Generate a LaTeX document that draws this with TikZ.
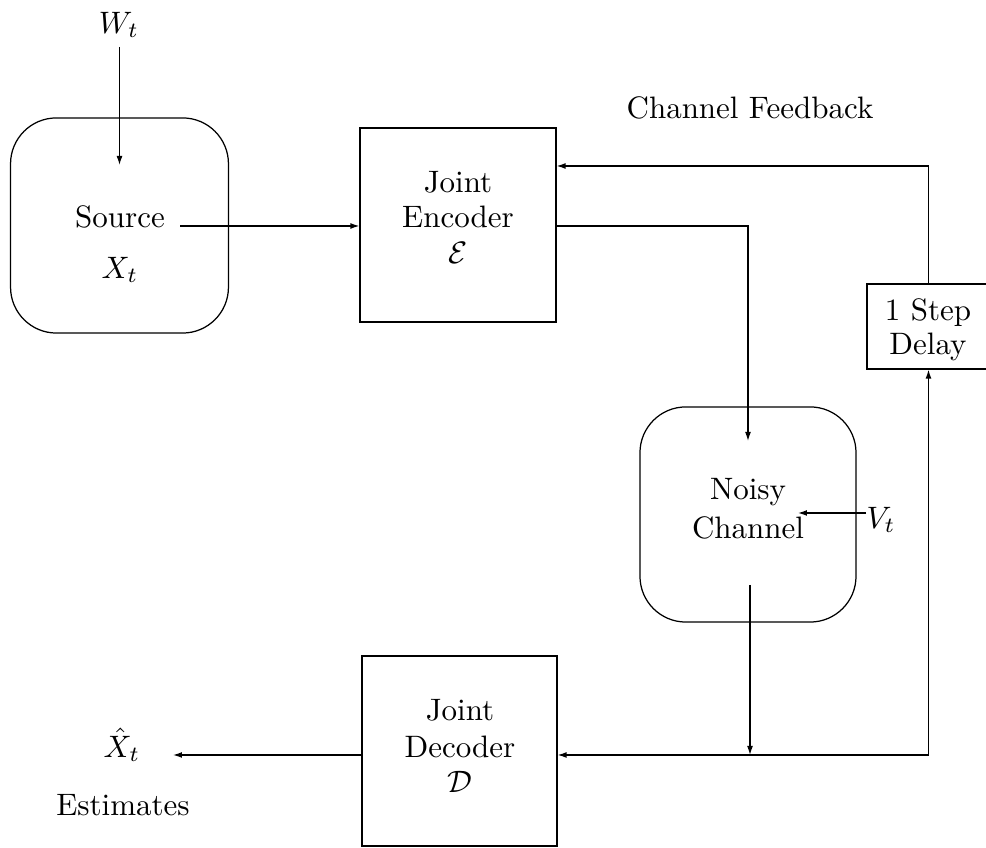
\documentclass[tikz,border=0pt]{standalone}
\usetikzlibrary{arrows.meta}
\begin{document}
\begin{tikzpicture}[x=0.3226pt,y=-0.3226pt,
  txt/.style={font=\fontsize{10}{12}\selectfont, inner sep=0pt},
  rbox/.style={draw, line width=0.4pt, rounded corners=14.8pt, inner sep=0pt},
  sbox/.style={draw, line width=0.4pt, rectangle, inner sep=0pt},
  arr/.style={line width=0.4pt, -{Latex[length=2.9pt,width=1.9pt]}}]
\useasboundingbox (0,0) rectangle (986,848);

% boxes
\node[rbox, minimum width=70.3pt, minimum height=69.4pt] (src) at (119.5,225.5) {};
\node[sbox, minimum width=63.2pt, minimum height=62.6pt] (enc) at (458,225) {};
\node[rbox, minimum width=69.7pt, minimum height=69.4pt] (chn) at (748,514.5) {};
\node[sbox, minimum width=39.7pt, minimum height=27.4pt] (dly) at (928.5,326.5) {};
\node[sbox, minimum width=62.9pt, minimum height=61.3pt] (dec) at (459.5,751) {};

% texts
\node[txt] (wt) at (119,25) {$W_t$};
\node[txt] (srctxt) at (120,217) {Source};
\node[txt] (srcx) at (120,270) {$X_t$};
\node[txt] (encj) at (458,182) {Joint};
\node[txt] (ence) at (458,217) {Encoder};
\node[txt] (encs) at (458,253) {$\mathcal{E}$};
\node[txt] (fbtxt) at (750,108) {Channel Feedback};
\node[txt] (dly1) at (928,313) {1 Step};
\node[txt] (dly2) at (928,347) {Delay};
\node[txt] (noisy) at (748,492) {Noisy};
\node[txt] (chtxt) at (748,528) {Channel};
\node[txt, anchor=west] (vt) at (866,520) {$V_t$};
\node[txt] (decj) at (460,710) {Joint};
\node[txt] (decd) at (460,747) {Decoder};
\node[txt] (decs) at (460,782) {$\mathcal{D}$};
\node[txt] (xhat) at (122,745) {$\hat{X}_t$};
\node[txt] (est) at (123,805) {Estimates};

% helper coordinates
\coordinate (wtstart) at (119.5,47);
\coordinate (wtend) at (119.5,165);
\coordinate (srcout) at (180,226);
\coordinate (chin) at (748,441);
\coordinate (chout) at (750,585);
\coordinate (vtend) at (798,513);
\coordinate (ybot) at (0,755);
\coordinate (yfb) at (0,166);
\coordinate (outend) at (173,755);

% connectors
\draw[arr] (wtstart) -- (wtend);
\draw[arr] (srcout) -- (srcout -| enc.west);
\draw[arr] (dly.north) |- (enc.east |- yfb);
\draw[arr] (enc.east |- srcout) -| (chin);
\draw[arr] (vt.west |- vtend) -- (vtend);
\draw[arr] (chout) -- (chout |- ybot);
\draw[arr] (dly.south |- ybot) -- (dly.south);
\draw[arr] (dly.south |- ybot) -- (dec.east |- ybot);
\draw[arr] (dec.west |- ybot) -- (outend);
\end{tikzpicture}
\end{document}
